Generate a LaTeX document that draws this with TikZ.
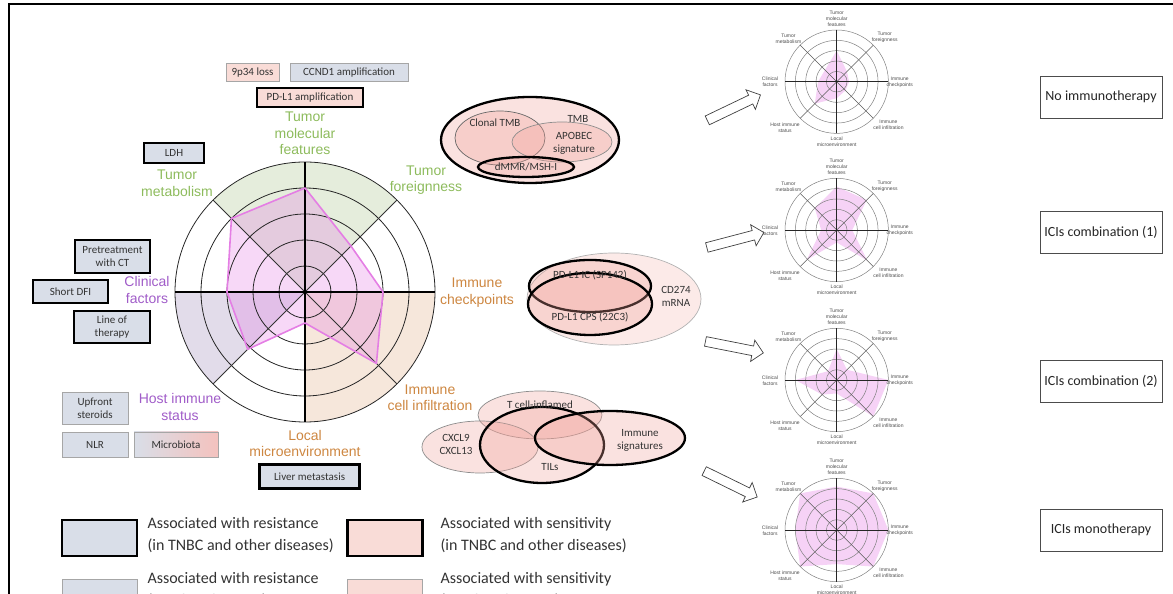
\documentclass[tikz,border=0pt]{standalone}
\usepackage{fontspec}
\setmainfont{Carlito}
\newfontfamily\arialfont{Liberation Sans}
\usetikzlibrary{shapes.arrows}

\definecolor{resfill}{HTML}{D9DEE8}
\definecolor{sensfill}{HTML}{F9DCD7}
\definecolor{microred}{HTML}{F4C2BE}
\definecolor{tumgreen}{HTML}{8DBB5C}
\definecolor{clinpurple}{HTML}{A05CC8}
\definecolor{immorange}{HTML}{CD8640}
\definecolor{wedgegreen}{HTML}{E5EDDC}
\definecolor{wedgetan}{HTML}{F6E7DB}
\definecolor{wedgelav}{HTML}{E2DCEA}
\definecolor{radarpink}{HTML}{E47EE4}
\definecolor{vennpink}{HTML}{F0A098}

\begin{document}
\begin{tikzpicture}[x=1pt, y=1pt,
    b/.style={draw=black!35, line width=0.6pt, inner sep=0pt, align=center, text=black!80, font=\fontsize{11}{13}\selectfont},
    res/.style={b, fill=resfill},
    sens/.style={b, fill=sensfill},
    tnbc/.style={draw=black, line width=2.5pt},
    lab/.style={align=center, font=\arialfont\fontsize{14}{16.7}\selectfont},
    v/.style={fill=vennpink, fill opacity=0.3, draw=black!45, line width=0.7pt},
    vk/.style={v, draw=black, line width=2.3pt},
    vt/.style={align=center, text=black!80, font=\fontsize{11}{13}\selectfont},
    sl/.style={align=center, text=black!70, font=\arialfont\fontsize{5}{6}\selectfont},
    hollow/.style={single arrow, draw=black!75, fill=white, line width=0.7pt, inner sep=4.5pt, single arrow head extend=6pt, single arrow head indent=0pt, minimum height=59pt},
    choice/.style={draw=black!70, line width=0.8pt, fill=white, minimum width=122pt, minimum height=42pt, text=black!85, font=\fontsize{14}{17}\selectfont},
    leg/.style={anchor=west, align=left, text=black!80, font=\fontsize{16}{21.7}\selectfont}
  ]
  \useasboundingbox (0,0) rectangle (1173,594);
  % frame
  \draw[line width=2pt] (9,0) -- (9,590) -- (1173,590);

  % big radar
  \begin{scope}[shift={(305,302)}]
    \fill[wedgegreen] (0,0) -- (45:130) arc[start angle=45, end angle=135, radius=130] -- cycle;
    \fill[wedgetan] (0,0) -- (-90:130) arc[start angle=-90, end angle=0, radius=130] -- cycle;
    \fill[wedgelav] (0,0) -- (180:130) arc[start angle=180, end angle=225, radius=130] -- cycle;
    \fill[radarpink, fill opacity=0.3] (90:104) -- (45:65) -- (0:78) -- (-45:101) -- (-90:31) -- (-135:81) -- (180:78) -- (135:104) -- cycle;
    \foreach \k in {1,...,5}
      \draw[black!85, line width=0.8pt] (0,0) circle[radius=\k*26];
    \foreach \a in {45,135,225,315}
      \draw[black!80, line width=0.8pt] (0,0) -- (\a:130);
    \draw[line width=1.6pt] (-130,0) -- (130,0) (0,-130) -- (0,130);
    \draw[radarpink, line width=1.6pt, line join=round] (90:104) -- (45:65) -- (0:78) -- (-45:101) -- (-90:31) -- (-135:81) -- (180:78) -- (135:104) -- cycle;
  \end{scope}

  % axis labels
  \node[lab, text=tumgreen] (molec) at (305,460.7) {Tumor\\molecular\\features};
  \node[lab, text=tumgreen] (foreign) at (426,414) {Tumor\\foreignness};
  \node[lab, text=tumgreen] (metab) at (177,410.7) {Tumor\\metabolism};
  \node[lab, text=clinpurple] (clin) at (147,303.7) {Clinical\\factors};
  \node[lab, text=clinpurple] (host) at (180,187.3) {Host immune\\status};
  \node[lab, text=immorange] (local) at (305,150.5) {Local\\microenvironment};
  \node[lab, text=immorange] (infil) at (430,196.3) {Immune\\cell infiltration};
  \node[lab, text=immorange] (check) at (477,301.5) {Immune\\checkpoints};

  % biomarker boxes
  \node[sens, minimum width=53pt, minimum height=18pt] (loss) at (252.5,521.2) {9p34 loss};
  \node[res, minimum width=118pt, minimum height=18pt] (ccnd) at (349,521.2) {CCND1 amplification};
  \node[sens, tnbc, minimum width=106pt, minimum height=19pt] (pdamp) at (310,496.5) {PD-L1 amplification};
  \node[res, tnbc, minimum width=60pt, minimum height=20pt] (ldh) at (174,441) {LDH};
  \node[res, tnbc, minimum width=75pt, minimum height=33pt] (pret) at (112.5,337.5) {Pretreatment\\with CT};
  \node[res, tnbc, minimum width=75pt, minimum height=23pt] (dfi) at (70.5,302.5) {Short DFI};
  \node[res, tnbc, minimum width=76pt, minimum height=32pt] (line) at (112,267) {Line of\\therapy};
  \node[res, minimum width=66pt, minimum height=32pt] (steroid) at (95,186) {Upfront\\steroids};
  \node[res, minimum width=66pt, minimum height=25pt] (nlr) at (95,149.5) {NLR};
  \node[b, left color=resfill, right color=microred, minimum width=84pt, minimum height=25pt] (micro) at (176,149.5) {Microbiota};
  \node[res, tnbc, minimum width=100pt, minimum height=24pt] (liver) at (309.6,117.5) {Liver metastasis};

  % tumor features group
  \draw[vk] (530,454) ellipse[x radius=89, y radius=43];
  \draw[v, draw=black!60] (500,456) ellipse[x radius=45, y radius=27];
  \draw[v] (562,452) ellipse[x radius=50, y radius=20];
  \draw[vk] (526,427) ellipse[x radius=48, y radius=10];
  \node[vt] (clonal) at (495,471) {Clonal TMB};
  \node[vt] (tmb) at (578,475) {TMB};
  \node[vt] (apobec) at (574,450.7) {APOBEC\\signature};
  \node[vt] (dmmr) at (526,427) {dMMR/MSH-I};

  % checkpoint group
  \draw[v, fill opacity=0.22, draw=black!30] (614,295) ellipse[x radius=87, y radius=46];
  \draw[vk] (590,308) ellipse[x radius=61, y radius=26];
  \draw[vk] (590,290) ellipse[x radius=62, y radius=31];
  \node[vt] (ic) at (590,319) {PD-L1 IC (SP142)};
  \node[vt] (cps) at (590,277) {PD-L1 CPS (22C3)};
  \node[vt] (cd274) at (676,298) {CD274\\mRNA};

  % infiltration group
  \draw[v] (540,179) ellipse[x radius=62, y radius=24];
  \draw[v] (480,147) ellipse[x radius=58, y radius=26];
  \draw[vk] (542,149) ellipse[x radius=62, y radius=38];
  \draw[vk] (610,156) ellipse[x radius=75, y radius=27];
  \node[vt] (tcell) at (540,189) {T cell-inflamed};
  \node[vt] (cxcl) at (456,149.5) {CXCL9\\CXCL13};
  \node[vt] (tils) at (550,127) {TILs};
  \node[vt] (sig) at (640,154) {Immune\\signatures};

  % arrows to scenarios
  \node[hollow, rotate=25.6] (arr1) at (731.7,485.3) {};
  \node[hollow, rotate=14.7] (arr2) at (733,353.4) {};
  \node[hollow, rotate=-11.2] (arr3) at (732,247.3) {};
  \node[hollow, rotate=-26.1] (arr4) at (728.5,111) {};

  % small radars
  \foreach \cy/\pa/\pb/\pc/\pd/\pe/\pf/\pg/\ph [count=\i] in
      {512.3/3/1.4/1.2/1.2/1.6/3/1.8/1.6,
       364/4.2/4.1/1.5/4.2/1.2/4.1/1.5/3,
       214/3/1.4/5/5/1.3/2/4/1.2,
       64/4.2/5/5/5/3.3/5/4/5} {
    \begin{scope}[shift={(836.7,\cy)}]
      \fill[radarpink, fill opacity=0.35] (90:{\pa*10.34}) -- (45:{\pb*10.34}) -- (0:{\pc*10.34}) -- (-45:{\pd*10.34}) -- (-90:{\pe*10.34}) -- (-135:{\pf*10.34}) -- (180:{\pg*10.34}) -- (135:{\ph*10.34}) -- cycle;
      \foreach \k in {1,...,5}
        \draw[black!50, line width=0.5pt] (0,0) circle[radius=\k*10.34];
      \foreach \a in {45,135,225,315}
        \draw[black!65, line width=0.5pt] (0,0) -- (\a:51.7);
      \draw[black!85, line width=0.8pt] (-51.7,0) -- (51.7,0) (0,-51.7) -- (0,51.7);
      \node[sl] (m\i) at (0,63.3) {Tumor\\molecular\\features};
      \node[sl] (f\i) at (48,44) {Tumor\\foreignness};
      \node[sl] (c\i) at (63,-0.8) {Immune\\checkpoints};
      \node[sl] (n\i) at (51.7,-43) {Immune\\cell infiltration};
      \node[sl] (l\i) at (0,-60) {Local\\microenvironment};
      \node[sl] (h\i) at (-51.7,-46) {Host immune\\status};
      \node[sl] (k\i) at (-66.7,-0.5) {Clinical\\factors};
      \node[sl] (t\i) at (-48.3,43.3) {Tumor\\metabolism};
    \end{scope}
  }

  % scenarios
  \node[choice] (none) at (1101,497) {No immunotherapy};
  \node[choice] (comb1) at (1101,362) {ICIs combination (1)};
  \node[choice] (comb2) at (1101,213) {ICIs combination (2)};
  \node[choice] (mono) at (1101,64) {ICIs monotherapy};

  % legend
  \node[res, tnbc, minimum width=75pt, minimum height=36pt] (key1) at (99.5,56) {};
  \node[leg] (key1t) at (144,59) {Associated with resistance\\(in TNBC and other diseases)};
  \node[sens, tnbc, minimum width=75pt, minimum height=36pt] (key2) at (385,56) {};
  \node[leg] (key2t) at (437,59) {Associated with sensitivity\\(in TNBC and other diseases)};
  \node[res, minimum width=75pt, minimum height=36pt] (key3) at (99.5,-3) {};
  \node[leg] (key3t) at (144,4) {Associated with resistance\\(in other diseases)};
  \node[sens, minimum width=75pt, minimum height=36pt] (key4) at (385,-3) {};
  \node[leg] (key4t) at (437,4) {Associated with sensitivity\\(in other diseases)};
\end{tikzpicture}
\end{document}
